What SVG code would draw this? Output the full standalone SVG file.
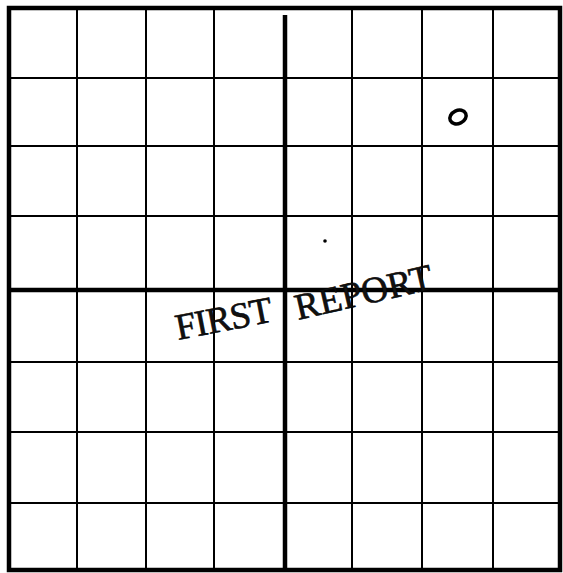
<svg xmlns="http://www.w3.org/2000/svg" width="563" height="573" viewBox="0 0 563 573">
<style>
.thin{stroke:#000;stroke-width:2;fill:none}
.thick{stroke:#000;stroke-width:4.5;fill:none}
.stamp{font-family:"Liberation Serif",serif;font-size:37px;fill:#111;stroke:#000;stroke-width:0.6}
</style>
<rect width="563" height="573" fill="#fff"/>
<g id="grid">
<g id="thin-lines" class="thin">
<line x1="77" y1="10" x2="77" y2="569"/>
<line x1="146" y1="10" x2="146" y2="569"/>
<line x1="214" y1="10" x2="214" y2="569"/>
<line x1="352" y1="10" x2="352" y2="569"/>
<line x1="422" y1="10" x2="422" y2="569"/>
<line x1="493" y1="10" x2="493" y2="569"/>
<line x1="10" y1="78" x2="559" y2="78"/>
<line x1="10" y1="146" x2="559" y2="146"/>
<line x1="10" y1="216" x2="559" y2="216"/>
<line x1="10" y1="362" x2="559" y2="362"/>
<line x1="10" y1="432" x2="559" y2="432"/>
<line x1="10" y1="503" x2="559" y2="503"/>
</g>
<g id="axes" class="thick">
<line x1="285" y1="15" x2="285" y2="569"/>
<line x1="10" y1="290" x2="559" y2="290"/>
</g>
<rect id="border" x="9" y="8" width="551" height="562" class="thick"/>
</g>
<g id="marks">
<ellipse cx="458" cy="117" rx="8.5" ry="6.5" transform="rotate(-25 458 117)" fill="none" stroke="#000" stroke-width="3.5"/>
<circle cx="325" cy="241" r="1.8" fill="#000"/>
</g>
<g id="stamp">
<text class="stamp" x="178" y="340" transform="rotate(-11 178 340)" textLength="98">FIRST</text>
<text class="stamp" x="298" y="320" transform="rotate(-13 298 320)" textLength="140">REPORT</text>
</g>
</svg>
